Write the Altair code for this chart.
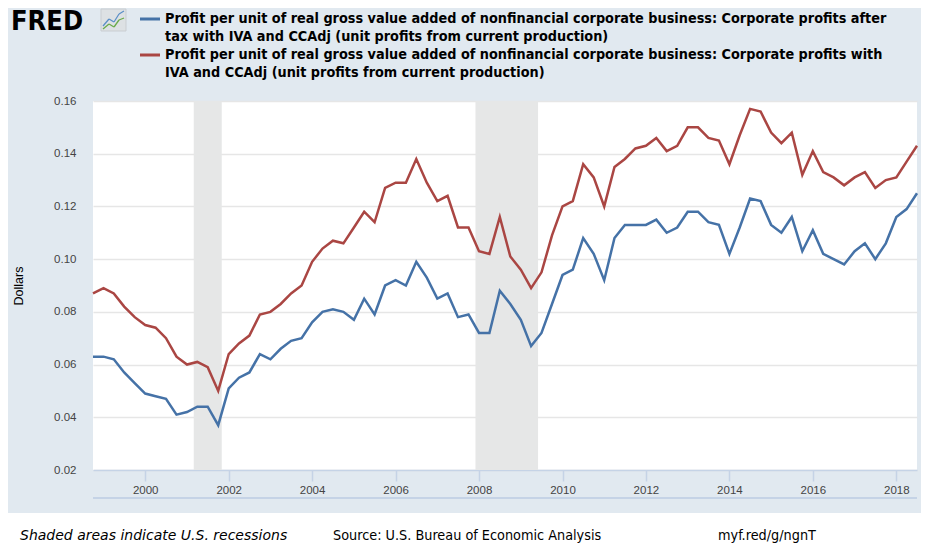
import altair as alt
import pandas as pd

# ---- data (quarterly, 1998Q4 .. 2018Q3) ----
dates = pd.date_range("1998-10-01", "2018-07-01", freq="QS").strftime("%Y-%m-%d").tolist()

after_tax = [
    0.063, 0.063, 0.062, 0.057, 0.053, 0.049, 0.048, 0.047, 0.041, 0.042,
    0.044, 0.044, 0.037, 0.051, 0.055, 0.057, 0.064, 0.062, 0.066, 0.069,
    0.070, 0.076, 0.080, 0.081, 0.080, 0.077, 0.085, 0.079, 0.090, 0.092,
    0.090, 0.099, 0.093, 0.085, 0.087, 0.078, 0.079, 0.072, 0.072, 0.088,
    0.083, 0.077, 0.067, 0.072, 0.083, 0.094, 0.096, 0.108, 0.102, 0.092,
    0.108, 0.113, 0.113, 0.113, 0.115, 0.110, 0.112, 0.118, 0.118, 0.114,
    0.113, 0.102, 0.112, 0.123, 0.122, 0.113, 0.110, 0.116, 0.103, 0.111,
    0.102, 0.100, 0.098, 0.103, 0.106, 0.100, 0.106, 0.116, 0.119, 0.125,
]
pre_tax = [
    0.087, 0.089, 0.087, 0.082, 0.078, 0.075, 0.074, 0.070, 0.063, 0.060,
    0.061, 0.059, 0.050, 0.064, 0.068, 0.071, 0.079, 0.080, 0.083, 0.087,
    0.090, 0.099, 0.104, 0.107, 0.106, 0.112, 0.118, 0.114, 0.127, 0.129,
    0.129, 0.138, 0.129, 0.122, 0.124, 0.112, 0.112, 0.103, 0.102, 0.116,
    0.101, 0.096, 0.089, 0.095, 0.109, 0.120, 0.122, 0.136, 0.131, 0.120,
    0.135, 0.138, 0.142, 0.143, 0.146, 0.141, 0.143, 0.150, 0.150, 0.146,
    0.145, 0.136, 0.147, 0.157, 0.156, 0.148, 0.144, 0.148, 0.132, 0.141,
    0.133, 0.131, 0.128, 0.131, 0.133, 0.127, 0.130, 0.131, 0.137, 0.143,
]

rec_start = ["2001-03-01", "2007-12-01"]
rec_end = ["2001-11-01", "2009-06-01"]

y_ticks = [0.02, 0.04, 0.06, 0.08, 0.10, 0.12, 0.14, 0.16]
x_tick_years = list(range(2000, 2019, 2))

series_names = ["After tax", "With IVA and CCAdj"]
series_colors = ["#4572a7", "#aa4643"]

legend_lines = [
    "Profit per unit of real gross value added of nonfinancial corporate business: Corporate profits after",
    "tax with IVA and CCAdj (unit profits from current production)",
    "Profit per unit of real gross value added of nonfinancial corporate business: Corporate profits with",
    "IVA and CCAdj (unit profits from current production)",
]
footer_note = "Shaded areas indicate U.S. recessions"
footer_source = "Source: U.S. Bureau of Economic Analysis"
footer_link = "myf.red/g/ngnT"

# ---- tables ----
df = pd.DataFrame({
    "date": dates * 2,
    "value": after_tax + pre_tax,
    "series": [series_names[0]] * len(dates) + [series_names[1]] * len(dates),
})
rec = pd.DataFrame({"start": rec_start, "end": rec_end})
one = pd.DataFrame({"k": [0]})

W, H = 824, 369
BG = "#e1e9f0"
AXC = "#c5d3e6"
FONT = "Liberation Sans"
HFONT = "DejaVu Sans Condensed"

xscale = alt.Scale(type="utc",
                   domain=[alt.DateTime(year=1998, month=10, date=1, utc=True),
                           alt.DateTime(year=2018, month=7, date=1, utc=True)])
yscale = alt.Scale(domain=[0.02, 0.16], nice=False, zero=False)

xaxis = alt.Axis(values=[alt.DateTime(year=y, month=1, date=1, utc=True) for y in x_tick_years],
                 format="%Y", grid=False, domainColor=AXC, domainWidth=1.5,
                 tickColor=AXC, tickWidth=1.5, tickSize=11, labelPadding=3,
                 labelFontSize=11.5, labelColor="#444444", labelFont=FONT, title=None)
yaxis = alt.Axis(values=y_ticks, format=".2f", grid=True, gridColor="#e6e6e6", gridWidth=1.5,
                 domain=False, ticks=False, tickSize=0, labelPadding=17,
                 labelFontSize=11.5, labelColor="#444444", labelFont=FONT,
                 title="Dollars", titleX=-75, titleY=184.5, titleAngle=270,
                 titleAlign="center", titleBaseline="middle", titleFontSize=12.5,
                 titleFontWeight="normal", titleFont=FONT, titleColor="#000000")

recess = alt.Chart(rec).mark_rect(color="#e6e7e7").encode(
    x=alt.X("start:T", scale=xscale, axis=xaxis),
    x2="end:T",
)

lines = alt.Chart(df).mark_line(strokeWidth=2.5).encode(
    x=alt.X("date:T", scale=xscale, axis=xaxis),
    y=alt.Y("value:Q", scale=yscale, axis=yaxis),
    color=alt.Color("series:N", scale=alt.Scale(domain=series_names, range=series_colors), legend=None),
)

# bottom second axis bar
bar2 = alt.Chart(one).mark_rule(color=AXC, strokeWidth=2).encode(
    x=alt.value(0), x2=alt.value(W), y=alt.value(397))

# white footer strip
footer_bg = alt.Chart(one).mark_rect(color="#ffffff").encode(
    x=alt.value(-85), x2=alt.value(W + 4), y=alt.value(412), y2=alt.value(452))

def txt(s, x, y, size=13, weight="normal", style="normal", font=HFONT, color="#000000", baseline="middle"):
    return alt.Chart(one).mark_text(text=s, align="left", baseline=baseline, fontSize=size,
                                    fontWeight=weight, fontStyle=style, font=font, color=color).encode(
        x=alt.value(x), y=alt.value(y))

header = [
    txt("FRED", -82, -92, size=27, weight="bold", baseline="top"),
    txt(legend_lines[0], 72, -82, size=14.3, weight="bold"),
    txt(legend_lines[1], 72, -64, size=14.3, weight="bold"),
    txt(legend_lines[2], 72, -46, size=14.3, weight="bold"),
    txt(legend_lines[3], 72, -28, size=14.3, weight="bold"),
]
dash_blue = alt.Chart(one).mark_rule(color=series_colors[0], strokeWidth=3).encode(
    x=alt.value(47), x2=alt.value(67), y=alt.value(-82))
dash_red = alt.Chart(one).mark_rule(color=series_colors[1], strokeWidth=3).encode(
    x=alt.value(47), x2=alt.value(67), y=alt.value(-46))

# small logo icon
icon_box = alt.Chart(one).mark_rect(color="#dde1e4", stroke="#c9cdd1", strokeWidth=1).encode(
    x=alt.value(8), x2=alt.value(33), y=alt.value(-92), y2=alt.value(-70))
def seg(x1, y1, x2, y2, c):
    return alt.Chart(one).mark_rule(color=c, strokeWidth=1.3).encode(
        x=alt.value(x1), y=alt.value(y1), x2=alt.value(x2), y2=alt.value(y2))
icon = [icon_box,
        seg(10, -75, 16, -82, "#5b8fc7"), seg(16, -82, 21, -79, "#5b8fc7"),
        seg(21, -79, 26, -87, "#5b8fc7"), seg(26, -87, 31, -90, "#5b8fc7"),
        seg(10, -72, 16, -77, "#6aab4a"), seg(16, -77, 21, -74, "#6aab4a"),
        seg(21, -74, 26, -81, "#6aab4a"), seg(26, -81, 31, -83, "#6aab4a")]

footer = [
    txt(footer_note, -73, 435, size=14, style="italic", font="DejaVu Sans"),
    txt(footer_source, 240, 435, size=14.3, font=HFONT),
    txt(footer_link, 625, 435, size=14.3, font=HFONT),
]

chart = alt.layer(
    recess, lines, bar2, footer_bg, *footer, *header, dash_blue, dash_red, *icon
).properties(
    width=W, height=H,
    background=BG,
    padding={"left": 85, "top": 93, "right": 4, "bottom": 80},
    autosize=alt.AutoSizeParams(type="none"),
).configure_view(
    fill="#ffffff", stroke=None,
)

chart.save("out.html", embed_options={"renderer": "svg", "actions": False})
